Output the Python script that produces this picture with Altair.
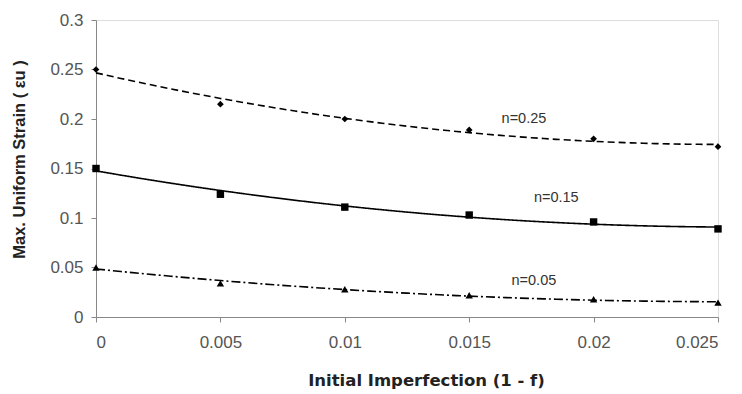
import altair as alt
import pandas as pd

imperfection = [0, 0.005, 0.01, 0.015, 0.02, 0.025]
strain_n025 = [0.250, 0.215, 0.200, 0.189, 0.180, 0.172]
strain_n015 = [0.150, 0.124, 0.111, 0.103, 0.096, 0.089]
strain_n005 = [0.050, 0.034, 0.028, 0.022, 0.018, 0.0145]
series_names = ["n=0.25", "n=0.15", "n=0.05"]
label_x = [0.0172, 0.0185, 0.0176]
label_y = [0.200, 0.120, 0.0364]

rows = []
for name, vals in zip(series_names, [strain_n025, strain_n015, strain_n005]):
    for x, y in zip(imperfection, vals):
        rows.append({"x": x, "y": y, "series": name})
df = pd.DataFrame(rows)
labels = pd.DataFrame({"x": label_x, "y": label_y, "text": series_names})

xs = alt.Scale(domain=[0, 0.025], nice=False, zero=False)
ys = alt.Scale(domain=[0, 0.3], nice=False)

xax = alt.Axis(values=imperfection, format="~g", grid=False, title="Initial Imperfection (1 - f)",
               labelFontSize=17, labelColor="#555", labelPadding=12, tickSize=5, tickColor="#888",
               domainColor="#888", titleFontSize=16.5, titleFontWeight="bold", titlePadding=22,
               titleColor="#222", labelFont="Liberation Sans", titleFont="DejaVu Sans",
               titleX=330, titleAlign="center")
yax = alt.Axis(values=[0, 0.05, 0.1, 0.15, 0.2, 0.25, 0.3], format="~g", grid=False,
               title="Max. Uniform Strain ( εu )", labelFontSize=17, labelColor="#555",
               labelPadding=8, tickSize=5, tickColor="#888", domainColor="#888",
               titleFontSize=16.5, titleFontWeight="bold", titlePadding=22, titleColor="#222",
               labelFont="Liberation Sans", titleFont="Liberation Sans", titleY=139)

base = alt.Chart(df)

def fit_line(name, dash):
    return base.transform_filter(alt.datum.series == name).transform_regression(
        "x", "y", method="poly", order=2, extent=[0, 0.025]
    ).mark_line(color="black", strokeWidth=1.6, strokeDash=dash).encode(
        x=alt.X("x:Q", scale=xs, axis=xax), y=alt.Y("y:Q", scale=ys, axis=yax)
    )

lines = [
    fit_line("n=0.25", [7, 4]),
    fit_line("n=0.15", [1, 0]),
    fit_line("n=0.05", [9, 3, 2, 3]),
]

shapes = {"n=0.25": ("diamond", 45), "n=0.15": ("square", 55), "n=0.05": ("triangle-up", 55)}
points = []
for name, (shp, sz) in shapes.items():
    points.append(
        base.transform_filter(alt.datum.series == name).mark_point(
            shape=shp, filled=True, color="black", size=sz, opacity=1
        ).encode(x=alt.X("x:Q", scale=xs, axis=xax), y=alt.Y("y:Q", scale=ys, axis=yax))
    )

text = alt.Chart(labels).mark_text(fontSize=14.5, color="#333", font="Liberation Sans").encode(
    x=alt.X("x:Q", scale=xs, axis=xax), y=alt.Y("y:Q", scale=ys, axis=yax), text="text:N"
)

chart = alt.layer(*lines, *points, text).properties(
    width=622, height=297,
    autosize=alt.AutoSizeParams(type="none"),
    padding={"left": 96, "top": 20, "right": 24, "bottom": 77},
).configure_view(stroke=None).configure(background="white")

chart.save("out.html", embed_options={"renderer": "svg", "actions": False})
